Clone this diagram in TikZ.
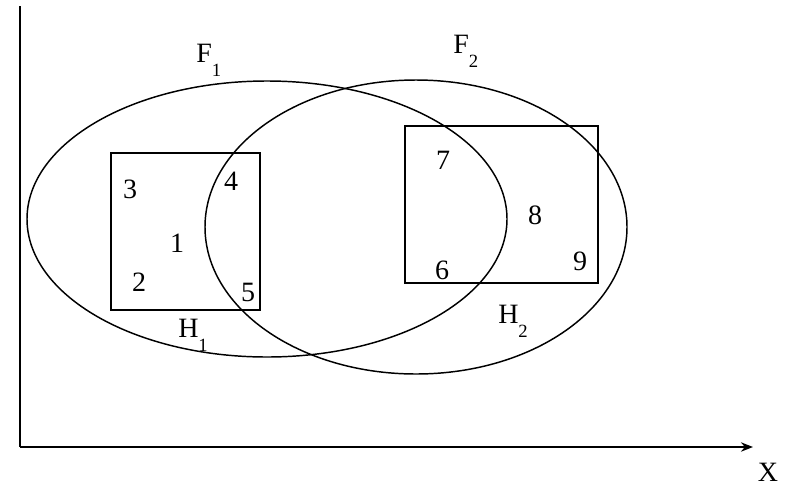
\documentclass[tikz,border=0pt]{standalone}
\usepackage{fontspec}
\setmainfont{Liberation Serif}
\usetikzlibrary{arrows.meta}
\newcommand{\mysub}[1]{\raisebox{-11pt}{\fontsize{14}{14}\selectfont #1}}
\begin{document}
\begin{tikzpicture}[x=0.75pt,y=-0.75pt,
  lbl/.style={inner sep=0pt,font=\fontsize{21}{21}\selectfont},
  sublbl/.style={inner sep=0pt,anchor=base west,font=\fontsize{21}{21}\selectfont},
  thinline/.style={line width=1.1pt},
  boxline/.style={line width=1.4pt}]
\useasboundingbox (0,0) rectangle (788,486);
% axes
\coordinate (top) at (20,6);
\coordinate (orig) at (20,447);
\coordinate (xend) at (753,447);
\draw[line width=1.5pt] (top) -- (orig);
\draw[line width=1.5pt,-{Stealth[length=9pt,width=7pt]}] (orig) -- (xend);
\node[lbl] (X) at (768,472) {X};
% ellipses
\draw[thinline] (267,219) ellipse [x radius=240, y radius=138];
\draw[thinline] (416,227) ellipse [x radius=211, y radius=147];
% rectangles
\draw[boxline] (111,153) rectangle (260,310);
\draw[boxline] (405,126) rectangle (598,283);
% labels
\node[sublbl] (F1) at (196,62) {F\mysub{1}};
\node[sublbl] (F2) at (453,53) {F\mysub{2}};
\node[sublbl] (H1) at (178,337) {H\mysub{1}};
\node[sublbl] (H2) at (498,323) {H\mysub{2}};
\node[lbl] (n3) at (130,189) {3};
\node[lbl] (n4) at (231,181) {4};
\node[lbl] (n1) at (177,243) {1};
\node[lbl] (n2) at (139,282) {2};
\node[lbl] (n5) at (248,292) {5};
\node[lbl] (n7) at (443,160) {7};
\node[lbl] (n8) at (535,215) {8};
\node[lbl] (n6) at (442,270) {6};
\node[lbl] (n9) at (580,261) {9};
\end{tikzpicture}
\end{document}
